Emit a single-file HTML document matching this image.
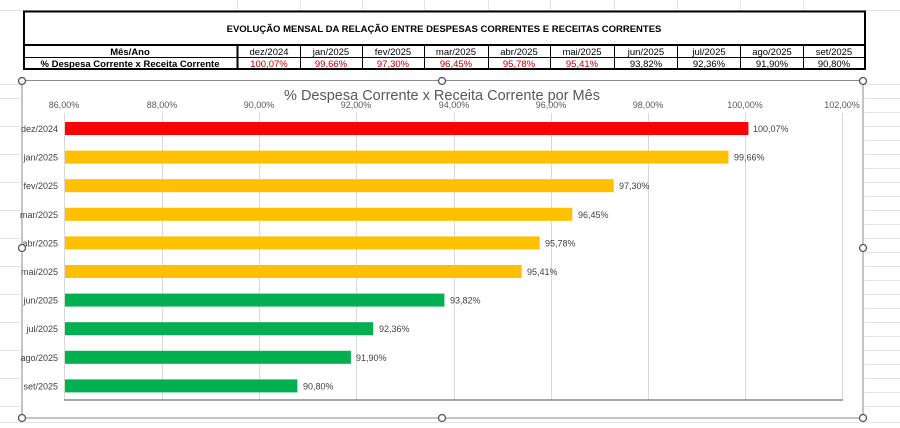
<!DOCTYPE html>
<html><head><meta charset="utf-8"><style>
html,body{margin:0;padding:0;background:#fff;}
svg{display:block;font-family:"Liberation Sans",Arial,sans-serif;}
</style></head><body>
<svg width="900" height="428" viewBox="0 0 900 428" xmlns="http://www.w3.org/2000/svg">
<rect width="900" height="428" fill="#fff"/>
<!-- spreadsheet gridlines -->
<g stroke="#e3e3e3" stroke-width="1">
<line x1="0" y1="10.5" x2="900" y2="10.5"/>
<line x1="0" y1="84.5" x2="900" y2="84.5"/>
<line x1="865" y1="98.5" x2="900" y2="98.5"/><line x1="865" y1="112.5" x2="900" y2="112.5"/>
<line x1="865" y1="126.5" x2="900" y2="126.5"/><line x1="865" y1="140.5" x2="900" y2="140.5"/>
<line x1="865" y1="154.5" x2="900" y2="154.5"/><line x1="865" y1="168.5" x2="900" y2="168.5"/>
<line x1="865" y1="182.5" x2="900" y2="182.5"/><line x1="865" y1="196.5" x2="900" y2="196.5"/>
<line x1="865" y1="210.5" x2="900" y2="210.5"/><line x1="865" y1="224.5" x2="900" y2="224.5"/>
<line x1="865" y1="238.5" x2="900" y2="238.5"/><line x1="865" y1="252.5" x2="900" y2="252.5"/>
<line x1="865" y1="266.5" x2="900" y2="266.5"/><line x1="865" y1="280.5" x2="900" y2="280.5"/>
<line x1="865" y1="294.5" x2="900" y2="294.5"/><line x1="865" y1="308.5" x2="900" y2="308.5"/>
<line x1="865" y1="322.5" x2="900" y2="322.5"/><line x1="865" y1="336.5" x2="900" y2="336.5"/>
<line x1="865" y1="350.5" x2="900" y2="350.5"/><line x1="865" y1="364.5" x2="900" y2="364.5"/>
<line x1="865" y1="378.5" x2="900" y2="378.5"/><line x1="865" y1="392.5" x2="900" y2="392.5"/>
<line x1="865" y1="406.5" x2="900" y2="406.5"/>
<line x1="0" y1="422.5" x2="900" y2="422.5"/>
<line x1="0" y1="98.5" x2="20" y2="98.5"/><line x1="0" y1="126.5" x2="20" y2="126.5"/>
<line x1="0" y1="154.5" x2="20" y2="154.5"/><line x1="0" y1="182.5" x2="20" y2="182.5"/>
<line x1="0" y1="210.5" x2="20" y2="210.5"/><line x1="0" y1="238.5" x2="20" y2="238.5"/>
<line x1="0" y1="266.5" x2="20" y2="266.5"/><line x1="0" y1="294.5" x2="20" y2="294.5"/>
<line x1="0" y1="322.5" x2="20" y2="322.5"/><line x1="0" y1="350.5" x2="20" y2="350.5"/>
<line x1="0" y1="378.5" x2="20" y2="378.5"/><line x1="0" y1="406.5" x2="20" y2="406.5"/>
<line x1="237.5" y1="0" x2="237.5" y2="10"/><line x1="300.5" y1="0" x2="300.5" y2="10"/>
<line x1="362.5" y1="0" x2="362.5" y2="10"/><line x1="424.5" y1="0" x2="424.5" y2="10"/>
<line x1="488.5" y1="0" x2="488.5" y2="10"/><line x1="550.5" y1="0" x2="550.5" y2="10"/>
<line x1="614.5" y1="0" x2="614.5" y2="10"/><line x1="677.5" y1="0" x2="677.5" y2="10"/>
<line x1="740.5" y1="0" x2="740.5" y2="10"/><line x1="803.5" y1="0" x2="803.5" y2="10"/>
</g>
<!-- table -->
<rect x="24" y="11.5" width="841" height="57.5" fill="#fff" stroke="#000" stroke-width="2"/>
<line x1="24" y1="45" x2="865" y2="45" stroke="#000" stroke-width="2"/>
<line x1="24" y1="57.5" x2="865" y2="57.5" stroke="#000" stroke-width="1"/>
<g stroke="#000" stroke-width="1">
<line x1="237.5" y1="45" x2="237.5" y2="69" stroke-width="2"/>
<line x1="300.5" y1="45" x2="300.5" y2="69"/><line x1="362.5" y1="45" x2="362.5" y2="69"/>
<line x1="424.5" y1="45" x2="424.5" y2="69"/><line x1="488.5" y1="45" x2="488.5" y2="69"/>
<line x1="550.5" y1="45" x2="550.5" y2="69"/><line x1="614.5" y1="45" x2="614.5" y2="69"/>
<line x1="677.5" y1="45" x2="677.5" y2="69"/><line x1="740.5" y1="45" x2="740.5" y2="69"/>
<line x1="803.5" y1="45" x2="803.5" y2="69"/>
</g>
<text x="444" y="32" font-size="9.5" font-weight="bold" text-anchor="middle">EVOLUÇÃO MENSAL DA RELAÇÃO ENTRE DESPESAS CORRENTES E RECEITAS CORRENTES</text>
<text x="130" y="55" font-size="9.5" font-weight="bold" text-anchor="middle">Mês/Ano</text>
<text x="130" y="67" font-size="9.5" font-weight="bold" text-anchor="middle">% Despesa Corrente x Receita Corrente</text>
<g font-size="9.5" text-anchor="middle">
<text x="269" y="55">dez/2024</text><text x="331" y="55">jan/2025</text><text x="393" y="55">fev/2025</text>
<text x="456" y="55">mar/2025</text><text x="519" y="55">abr/2025</text><text x="582" y="55">mai/2025</text>
<text x="646" y="55">jun/2025</text><text x="709" y="55">jul/2025</text><text x="772" y="55">ago/2025</text>
<text x="834" y="55">set/2025</text>
</g>
<g font-size="9.5" text-anchor="middle" fill="#c00000">
<text x="269" y="67">100,07%</text><text x="331" y="67">99,66%</text><text x="393" y="67">97,30%</text>
<text x="456" y="67">96,45%</text><text x="519" y="67">95,78%</text><text x="582" y="67">95,41%</text>
</g>
<g font-size="9.5" text-anchor="middle" fill="#000">
<text x="646" y="67">93,82%</text><text x="709" y="67">92,36%</text><text x="772" y="67">91,90%</text><text x="834" y="67">90,80%</text>
</g>
<!-- chart frame -->
<rect x="22" y="80.5" width="841" height="337.5" fill="#fff" stroke="#8a8a8a" stroke-width="1"/>
<!-- gridlines -->
<g stroke="#d9d9d9" stroke-width="1">
<line x1="162.5" y1="113" x2="162.5" y2="400"/><line x1="259.5" y1="113" x2="259.5" y2="400"/>
<line x1="356.5" y1="113" x2="356.5" y2="400"/><line x1="454.5" y1="113" x2="454.5" y2="400"/>
<line x1="551.5" y1="113" x2="551.5" y2="400"/><line x1="648.5" y1="113" x2="648.5" y2="400"/>
<line x1="745.5" y1="113" x2="745.5" y2="400"/><line x1="842.5" y1="113" x2="842.5" y2="400"/>
<line x1="64.5" y1="113" x2="64.5" y2="400"/>
</g>
<line x1="64" y1="400" x2="843" y2="400" stroke="#888" stroke-width="1.5"/>
<text x="442" y="100" font-size="14.5" fill="#595959" text-anchor="middle">% Despesa Corrente x Receita Corrente por Mês</text>
<g font-size="9" fill="#595959" text-anchor="middle">
<text x="64" y="108">86,00%</text><text x="162" y="108">88,00%</text><text x="259" y="108">90,00%</text>
<text x="356" y="108">92,00%</text><text x="454" y="108">94,00%</text><text x="551" y="108">96,00%</text>
<text x="648" y="108">98,00%</text><text x="745" y="108">100,00%</text><text x="842" y="108">102,00%</text>
</g>
<!-- bars -->
<g>
<rect x="65" y="122" width="683.4" height="13" fill="#ff0000"/>
<rect x="65" y="150.6" width="663.5" height="13" fill="#ffc000"/>
<rect x="65" y="179.2" width="548.7" height="13" fill="#ffc000"/>
<rect x="65" y="207.8" width="507.3" height="13" fill="#ffc000"/>
<rect x="65" y="236.4" width="474.7" height="13" fill="#ffc000"/>
<rect x="65" y="265" width="456.7" height="13" fill="#ffc000"/>
<rect x="65" y="293.6" width="379.4" height="13" fill="#00b050"/>
<rect x="65" y="322.2" width="308.3" height="13" fill="#00b050"/>
<rect x="65" y="350.8" width="285.9" height="13" fill="#00b050"/>
<rect x="65" y="379.4" width="232.4" height="13" fill="#00b050"/>
</g>
<g font-size="9" fill="#404040">
<text x="753" y="132">100,07%</text><text x="734" y="160.6">99,66%</text><text x="619" y="189.2">97,30%</text>
<text x="578" y="217.8">96,45%</text><text x="545" y="246.4">95,78%</text><text x="527" y="275">95,41%</text>
<text x="450" y="303.6">93,82%</text><text x="379" y="332.2">92,36%</text><text x="356" y="360.8">91,90%</text>
<text x="303" y="389.4">90,80%</text>
</g>
<g font-size="9" fill="#404040" text-anchor="end">
<text x="58" y="132">dez/2024</text><text x="58" y="160.6">jan/2025</text><text x="58" y="189.2">fev/2025</text>
<text x="58" y="217.8">mar/2025</text><text x="58" y="246.4">abr/2025</text><text x="58" y="275">mai/2025</text>
<text x="58" y="303.6">jun/2025</text><text x="58" y="332.2">jul/2025</text><text x="58" y="360.8">ago/2025</text>
<text x="58" y="389.4">set/2025</text>
</g>
<!-- handles -->
<g fill="#fff" stroke="#555" stroke-width="1.3">
<circle cx="22" cy="81" r="3.5"/><circle cx="442" cy="81" r="3.5"/><circle cx="863" cy="81" r="3.5"/>
<circle cx="22" cy="248" r="3.5"/><circle cx="863" cy="248" r="3.5"/>
<circle cx="22" cy="418" r="3.5"/><circle cx="442" cy="418" r="3.5"/><circle cx="863" cy="418" r="3.5"/>
</g>
</svg>
</body></html>
